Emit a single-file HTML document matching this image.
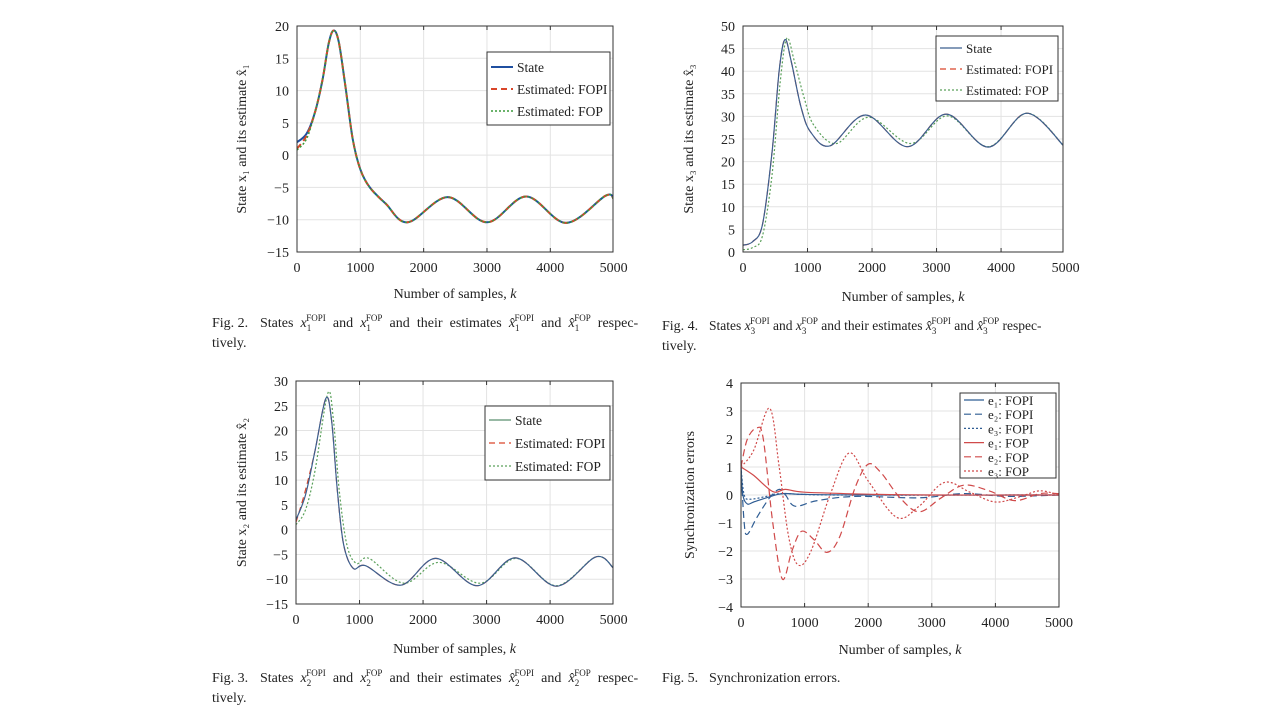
<!DOCTYPE html>
<html><head><meta charset="utf-8"><style>
html,body{margin:0;padding:0;background:#fff;width:1280px;height:720px;overflow:hidden}
svg{display:block;font-family:"Liberation Serif",serif}
.cap{font-size:14px;fill:#222}
.ws{word-spacing:3.6px}
.ws2{word-spacing:0px;font-size:13.5px}
</style></head><body>
<svg id="s" width="1280" height="720" xmlns="http://www.w3.org/2000/svg">
<g class="cap">
<text x="212" y="327">Fig. 2.<tspan x="260" class="ws">States <tspan font-style="italic">x</tspan><tspan font-size="9" dy="4">1</tspan><tspan font-size="9" dy="-10" dx="-5">FOPI</tspan><tspan dy="6"> and </tspan><tspan font-style="italic">x</tspan><tspan font-size="9" dy="4">1</tspan><tspan font-size="9" dy="-10" dx="-5">FOP</tspan><tspan dy="6"> and their estimates </tspan><tspan font-style="italic">x̂</tspan><tspan font-size="9" dy="4">1</tspan><tspan font-size="9" dy="-10" dx="-5">FOPI</tspan><tspan dy="6"> and </tspan><tspan font-style="italic">x̂</tspan><tspan font-size="9" dy="4">1</tspan><tspan font-size="9" dy="-10" dx="-5">FOP</tspan><tspan dy="6"> respec-</tspan></tspan></text>
<text x="212" y="347">tively.</text>
<text x="662" y="330">Fig. 4.<tspan x="709" class="ws2">States <tspan font-style="italic">x</tspan><tspan font-size="9" dy="4">3</tspan><tspan font-size="9" dy="-10" dx="-5">FOPI</tspan><tspan dy="6"> and </tspan><tspan font-style="italic">x</tspan><tspan font-size="9" dy="4">3</tspan><tspan font-size="9" dy="-10" dx="-5">FOP</tspan><tspan dy="6"> and their estimates </tspan><tspan font-style="italic">x̂</tspan><tspan font-size="9" dy="4">3</tspan><tspan font-size="9" dy="-10" dx="-5">FOPI</tspan><tspan dy="6"> and </tspan><tspan font-style="italic">x̂</tspan><tspan font-size="9" dy="4">3</tspan><tspan font-size="9" dy="-10" dx="-5">FOP</tspan><tspan dy="6"> respec-</tspan></tspan></text>
<text x="662" y="350">tively.</text>
<text x="212" y="682">Fig. 3.<tspan x="260" class="ws">States <tspan font-style="italic">x</tspan><tspan font-size="9" dy="4">2</tspan><tspan font-size="9" dy="-10" dx="-5">FOPI</tspan><tspan dy="6"> and </tspan><tspan font-style="italic">x</tspan><tspan font-size="9" dy="4">2</tspan><tspan font-size="9" dy="-10" dx="-5">FOP</tspan><tspan dy="6"> and their estimates </tspan><tspan font-style="italic">x̂</tspan><tspan font-size="9" dy="4">2</tspan><tspan font-size="9" dy="-10" dx="-5">FOPI</tspan><tspan dy="6"> and </tspan><tspan font-style="italic">x̂</tspan><tspan font-size="9" dy="4">2</tspan><tspan font-size="9" dy="-10" dx="-5">FOP</tspan><tspan dy="6"> respec-</tspan></tspan></text>
<text x="212" y="702">tively.</text>
<text x="662" y="682">Fig. 5.<tspan x="709">Synchronization errors.</tspan></text>
</g>
</svg>
<script>
const NS="http://www.w3.org/2000/svg",S=document.getElementById('s');
function el(t,a,p,txt){const e=document.createElementNS(NS,t);for(const k in a)e.setAttribute(k,a[k]);if(txt!==undefined)e.textContent=txt;(p||S).appendChild(e);return e;}
function cr(pts){let d="M"+pts[0][0]+","+pts[0][1];for(let i=0;i<pts.length-1;i++){const p0=pts[Math.max(0,i-1)],p1=pts[i],p2=pts[i+1],p3=pts[Math.min(pts.length-1,i+2)];
d+=` C${(p1[0]+(p2[0]-p0[0])/6).toFixed(1)},${(p1[1]+(p2[1]-p0[1])/6).toFixed(1)} ${(p2[0]-(p3[0]-p1[0])/6).toFixed(1)},${(p2[1]-(p3[1]-p1[1])/6).toFixed(1)} ${p2[0].toFixed(1)},${p2[1].toFixed(1)}`;}return d;}
function plot(o){
 const {L,R,T,B,ymin,ymax,ystep,xmax}=o;
 const X=k=>L+(R-L)*k/xmax, Y=v=>B-(B-T)*(v-ymin)/(ymax-ymin);
 for(let k=0;k<=5000;k+=1000){const x=X(k);if(k>0&&x<R)el('line',{x1:x,x2:x,y1:T,y2:B,stroke:'#e3e3e3','stroke-width':1});
  el('text',{x:x,y:B+20,'text-anchor':'middle','font-size':14,fill:'#222'},null,String(k));}
 for(let v=ymin;v<=ymax+1e-9;v+=ystep){const y=Y(v);if(v>ymin&&v<ymax)el('line',{x1:L,x2:R,y1:y,y2:y,stroke:'#e3e3e3','stroke-width':1});
  el('text',{x:L-8,y:y+5,'text-anchor':'end','font-size':14,fill:'#222'},null,(v<0?'\u2212'+(-v):String(v)));}
 const cp='c'+L+'_'+T;const def=el('clipPath',{id:cp});el('rect',{x:L,y:T,width:R-L,height:B-T},def);
 const g=el('g',{'clip-path':'url(#'+cp+')'});
 o.series.forEach(s=>{el('path',{d:cr(s.p.map(q=>[X(q[0]),Y(q[1])])),fill:'none',stroke:s.c,'stroke-width':s.w||1.2,'stroke-dasharray':s.da||''},g);});
 el('rect',{x:L,y:T,width:R-L,height:B-T,fill:'none',stroke:'#333','stroke-width':1});
 for(let k=1000;k<=5000;k+=1000){const x=X(k);if(x<R){el('line',{x1:x,x2:x,y1:B,y2:B-4,stroke:'#333'});el('line',{x1:x,x2:x,y1:T,y2:T+4,stroke:'#333'});}}
 el('text',{x:(L+R)/2,y:o.xly,'text-anchor':'middle','font-size':14,fill:'#222'},null,'Number of samples, ').appendChild(Object.assign(document.createElementNS(NS,'tspan'),{textContent:'k'})).setAttribute('font-style','italic');
 el('text',{transform:`translate(${o.ylx},${(T+B)/2}) rotate(-90)`,'text-anchor':'middle','font-size':14,fill:'#222'},null,o.yl);
 const lg=o.leg;el('rect',{x:lg.x,y:lg.y,width:lg.w,height:lg.h,fill:'#fff',stroke:'#333'});
 lg.items.forEach((it,i)=>{const y=lg.y+lg.dy0+i*lg.dy;el('line',{x1:lg.x+4,x2:lg.x+4+lg.ll,y1:y,y2:y,stroke:it.c,'stroke-width':it.w||1.2,'stroke-dasharray':it.da||''});
  el('text',{x:lg.x+8+lg.ll,y:y+5,'font-size':lg.fs||14,fill:'#222'},null,it.t);});
}
// Plot 1
const p1=[[0,2],[150,3.3],[280,6.5],[400,11.5],[500,17.3],[580,19.3],[660,17.5],[760,11],[880,2.5],[1000,-2.2],[1150,-5],[1400,-7.5],[1750,-10.4],[2380,-6.5],[3000,-10.4],[3620,-6.4],[4250,-10.5],[4870,-6.3],[5000,-6.8]];
const p1b=p1.map((q,i)=>i==0?[0,1]:i==1?[150,3]:q);
const p1c=p1.map((q,i)=>i==0?[0,0.8]:i==1?[150,2.5]:q);
plot({L:297,R:613,T:26,B:252,ymin:-15,ymax:20,ystep:5,xmax:4990,xly:298,ylx:246,yl:'State x\u2081 and its estimate x\u0302\u2081',
 series:[{p:p1,c:'#1f4fa0',w:2},{p:p1b,c:'#d9462a',w:2,da:'6,4'},{p:p1c,c:'#3a9a3a',w:1.5,da:'2,2'}],
 leg:{x:487,y:52,w:123,h:73,dy0:15,dy:22,ll:22,fs:13.5,items:[{t:'State',c:'#1f4fa0',w:2},{t:'Estimated: FOPI',c:'#d9462a',w:2,da:'6,4'},{t:'Estimated: FOP',c:'#3a9a3a',w:1.5,da:'2,2'}]}});
// Plot 2 (x3)
const p3=[[0,1.5],[150,2.3],[300,6],[450,22],[560,40],[650,47],[750,42],[900,32],[1050,26.5],[1350,23.5],[1900,30.3],[2550,23.3],[3150,30.5],[3800,23.2],[4400,30.7],[5000,23]];
const p3c=[[0,0.5],[150,1],[300,3.5],[450,17],[580,38],[680,47.3],[800,42],[950,34],[1100,28],[1450,24],[1950,29.8],[2600,24],[3170,30.1],[3800,23.3],[4410,30.7],[5000,23]];
plot({L:743,R:1063,T:26,B:252,ymin:0,ymax:50,ystep:5,xmax:4960,xly:301,ylx:693,yl:'State x\u2083 and its estimate x\u0302\u2083',
 series:[{p:p3,c:'#d9462a',da:'6,4'},{p:p3c,c:'#5aa05a',da:'2,2'},{p:p3,c:'#3c5f8f'}],
 leg:{x:936,y:36,w:122,h:65,dy0:12,dy:21,ll:22,fs:13,items:[{t:'State',c:'#3c5f8f'},{t:'Estimated: FOPI',c:'#d9462a',da:'6,4'},{t:'Estimated: FOP',c:'#5aa05a',da:'2,2'}]}});
// Plot 3 (x2)
const p2=[[0,2],[150,7],[300,16],[470,26.5],[560,22],[650,8],[750,-3],[900,-7.8],[1100,-7.3],[1650,-11.2],[2200,-5.8],[2850,-11.3],[3450,-5.7],[4100,-11.4],[4720,-5.5],[5000,-7.8]];
const p2b=p2.map((q,i)=>i==0?[0,1.5]:i==1?[150,8]:q);
const p2c=[[0,1],[150,4],[300,12],[500,27.5],[590,22],[680,8],[800,-3],[950,-6.8],[1150,-5.8],[1700,-10.8],[2250,-6.6],[2900,-10.8],[3470,-5.8],[4100,-11.3],[4720,-5.5],[5000,-7.8]];
plot({L:296,R:613,T:381,B:604,ymin:-15,ymax:30,ystep:5,xmax:4990,xly:653,ylx:246,yl:'State x\u2082 and its estimate x\u0302\u2082',
 series:[{p:p2b,c:'#d9462a',da:'6,4'},{p:p2c,c:'#5aa05a',da:'2,2'},{p:p2,c:'#3c5f8f'}],
 leg:{x:485,y:406,w:125,h:74,dy0:14,dy:23,ll:22,fs:13.5,items:[{t:'State',c:'#5a8f6f'},{t:'Estimated: FOPI',c:'#d9462a',da:'6,4'},{t:'Estimated: FOP',c:'#5aa05a',da:'2,2'}]}});
// Plot 4 errors
const B1='#2f5d94',R1='#d04a4a';
plot({L:741,R:1059,T:383,B:607,ymin:-4,ymax:4,ystep:1,xmax:5000,xly:654,ylx:694,yl:'Synchronization errors',
 series:[
 {p:[[0,1],[30,0],[100,-0.32],[200,-0.25],[400,-0.1],[650,0.05],[1000,0.02],[2000,0],[5000,0]],c:B1},
 {p:[[0,1],[50,-1],[100,-1.4],[250,-0.8],[450,-0.1],[600,0.2],[700,0],[850,-0.4],[1200,-0.2],[1800,-0.05],[2800,-0.1],[3500,0.05],[4200,-0.05],[5000,0]],c:B1,da:'7,4'},
 {p:[[0,1],[50,0],[150,-0.15],[400,-0.05],[650,0.05],[1500,0],[5000,0]],c:B1,da:'2,2'},
 {p:[[0,1],[200,0.7],[500,0.12],[700,0.2],[1000,0.1],[2000,0.03],[3000,0],[5000,0]],c:R1},
 {p:[[0,1],[100,2],[250,2.4],[350,2],[500,-1],[650,-3],[800,-2],[950,-1.3],[1150,-1.6],[1350,-2.05],[1550,-1.5],[1800,0.3],[2000,1.1],[2200,0.8],[2500,-0.1],[2800,-0.6],[3150,-0.1],[3500,0.35],[3900,0.15],[4300,-0.2],[4700,0.05],[5000,0.05]],c:R1,da:'7,4'},
 {p:[[0,1],[200,1.6],[450,3.1],[600,1],[750,-1.5],[900,-2.5],[1100,-2],[1400,0],[1700,1.5],[2000,0.5],[2450,-0.8],[2800,-0.4],[3200,0.45],[3600,0.1],[4000,-0.25],[4400,-0.05],[4700,0.15],[5000,0]],c:R1,da:'2,2'}],
 leg:{x:960,y:393,w:96,h:85,dy0:7,dy:14.2,ll:20,fs:13,items:[{t:'e\u2081: FOPI',c:B1},{t:'e\u2082: FOPI',c:B1,da:'7,4'},{t:'e\u2083: FOPI',c:B1,da:'2,2'},{t:'e\u2081: FOP',c:R1},{t:'e\u2082: FOP',c:R1,da:'7,4'},{t:'e\u2083: FOP',c:R1,da:'2,2'}]}});
</script>
</body></html>
